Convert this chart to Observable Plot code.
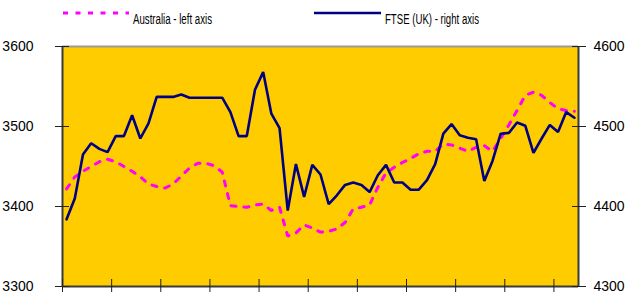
<!DOCTYPE html>
<html>
<head>
<meta charset="utf-8">
<script src="https://cdn.jsdelivr.net/npm/d3@7"></script>
<script src="https://cdn.jsdelivr.net/npm/@observablehq/plot@0.6"></script>
<style>
  body { margin: 0; background: #fff; font-family: "Liberation Sans", Arial, sans-serif; }
  #wrap { position: relative; width: 636px; height: 296px; overflow: hidden; }
  #legend { position: absolute; left: 0; top: 0; }
  #chart { position: absolute; left: 0; top: 30px; }
</style>
</head>
<body>
<div id="wrap">
  <svg id="legend" width="636" height="30">
    <line x1="63" x2="129" y1="13" y2="13" stroke="#ff00ff" stroke-width="3" stroke-dasharray="5,7.5"></line>
    <text x="133" y="24" font-size="14" font-family="Liberation Sans, Arial, sans-serif" textLength="79" lengthAdjust="spacingAndGlyphs" fill="#000">Australia - left axis</text>
    <line x1="314" x2="381" y1="13" y2="13" stroke="#000080" stroke-width="2.5"></line>
    <text x="385" y="24" font-size="14" font-family="Liberation Sans, Arial, sans-serif" textLength="94" lengthAdjust="spacingAndGlyphs" fill="#000">FTSE (UK) - right axis</text>
  </svg>
  <div id="chart"></div>
</div>
<script>
// Australia index (left axis)
const australia = [
  3422, 3437, 3444, 3450, 3456, 3459, 3456, 3450, 3444, 3437,
  3428, 3425, 3423, 3428, 3438, 3448, 3454, 3454, 3451, 3443,
  3401, 3400, 3399, 3402, 3403, 3395, 3399, 3363, 3367, 3377,
  3373, 3368, 3369, 3372, 3380, 3397, 3399, 3402, 3424, 3442,
  3449, 3455, 3460, 3466, 3469, 3469, 3478, 3477, 3473, 3469,
  3474, 3476, 3469, 3485, 3502, 3520, 3539, 3543, 3539, 3530,
  3522, 3520, 3519
];
// FTSE (UK) (right axis)
const ftse = [
  4384, 4410, 4465, 4479, 4472, 4468, 4488, 4488, 4514, 4485,
  4504, 4537, 4537, 4537, 4540, 4536, 4536, 4536, 4536, 4536,
  4518, 4488, 4488, 4546, 4568, 4516, 4498, 4395, 4453, 4412,
  4452, 4440, 4403, 4414, 4427, 4430, 4427, 4418, 4439, 4452,
  4430, 4430, 4421, 4421, 4433, 4453, 4491, 4503, 4489, 4486,
  4484, 4432, 4457, 4491, 4492, 4505, 4501, 4467, 4485, 4502,
  4493, 4518, 4511
];
const leftTicks = [3300, 3400, 3500, 3600];
const rightTicks = [4300, 4400, 4500, 4600];
const rightOffset = 1000; // right axis value = left axis value + 1000
const categoryTicks = [0, 6, 12, 18, 24, 30, 36, 42, 48, 54, 60];
const nCategories = australia.length;

const ausData = australia.map((v, i) => ({x: i + 0.5, y: v}));
const ftseData = ftse.map((v, i) => ({x: i + 0.5, y: v - rightOffset}));

const plot = Plot.plot({
  width: 636,
  height: 266,
  marginTop: 16,
  marginBottom: 10,
  marginLeft: 62,
  marginRight: 58,
  style: {fontFamily: "Liberation Sans, Arial, sans-serif", fontSize: "14px", color: "#000", background: "transparent", overflow: "visible"},
  x: {domain: [0, nCategories], axis: null},
  y: {domain: [leftTicks[0], leftTicks[leftTicks.length - 1]], axis: null},
  marks: [
    Plot.frame({fill: "#ffcc00", stroke: null}),
    Plot.ruleY([leftTicks[leftTicks.length - 1]], {stroke: "#9a9a9a", strokeWidth: 2}),
    Plot.line(ausData, {x: "x", y: "y", stroke: "#ff00ff", strokeWidth: 3, strokeDasharray: "5,8", strokeLinejoin: "miter"}),
    Plot.line(ftseData, {x: "x", y: "y", stroke: "#000080", strokeWidth: 2.6, strokeLinejoin: "miter"}),
    Plot.ruleX([0], {stroke: "#3a3a3a", strokeWidth: 2}),
    Plot.ruleX([nCategories], {stroke: "#3a3a3a", strokeWidth: 2}),
    Plot.ruleY([leftTicks[0]], {stroke: "#3a3a3a", strokeWidth: 2}),
    Plot.axisY(leftTicks, {anchor: "left", label: null, tickSize: 14, dx: 7, tickPadding: 22, tickFormat: d => String(d), stroke: "#222", fill: "#000", fontSize: 14}),
    Plot.axisY(leftTicks, {anchor: "right", label: null, tickSize: 14, dx: -7, tickPadding: 8, tickFormat: d => String(rightTicks[leftTicks.indexOf(d)]), stroke: "#222", fill: "#000", fontSize: 14}),
    Plot.axisX(categoryTicks, {anchor: "bottom", label: null, tickSize: 13, dy: -7, tickFormat: () => "", stroke: "#222"})
  ]
});
document.getElementById("chart").appendChild(plot);
</script>
</body>
</html>
